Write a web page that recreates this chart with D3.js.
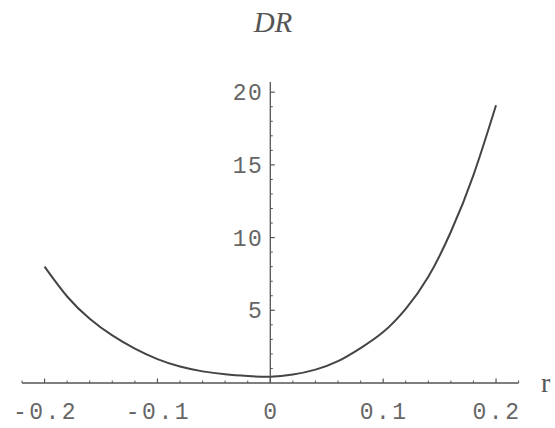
<!DOCTYPE html>
<html><head><meta charset="utf-8">
<script src="https://cdn.jsdelivr.net/npm/d3@7"></script>
<style>body{margin:0;background:#fff}svg{display:block}</style>
</head><body>
<svg id="c" width="555" height="428"></svg>
<script>
// Data
const rValues  = [-0.20,-0.18,-0.16,-0.14,-0.12,-0.10,-0.08,-0.06,-0.04,-0.02,0.00,0.02,0.04,0.06,0.08,0.10,0.12,0.14,0.16,0.18,0.20];
const drValues = [8.0,5.95,4.42,3.27,2.36,1.64,1.13,0.80,0.60,0.48,0.43,0.58,0.92,1.50,2.40,3.50,5.1,7.3,10.4,14.3,19.1];
const xTicks = [-0.2,-0.1,0,0.1,0.2];
const xTickLabels = ["-0.2","-0.1","0","0.1","0.2"];
const yTicks = [5,10,15,20];
const yTickLabels = ["5","10","15","20"];
const title = "DR";
const xLabel = "r";

const svg = d3.select("#c");
const x = d3.scaleLinear().domain([-0.22,0.22]).range([22,518.6]);
const y = d3.scaleLinear().domain([0,20.7]).range([383,82]);
const axisCol = "#555", textCol = "#666";

// x axis line
svg.append("line").attr("x1",x(-0.22)).attr("x2",x(0.22)).attr("y1",y(0)).attr("y2",y(0))
  .attr("stroke",axisCol).attr("stroke-width",1.3);
// y axis line
svg.append("line").attr("x1",x(0)).attr("x2",x(0)).attr("y1",y(0)).attr("y2",y(20.7))
  .attr("stroke",axisCol).attr("stroke-width",1.3);

// x minor ticks
const xMinor = d3.range(-0.22,0.2201,0.02).map(v=>+v.toFixed(2)).filter(v=>!xTicks.some(t=>Math.abs(t-v)<1e-6));
svg.selectAll(".xm").data(xMinor).join("line")
  .attr("x1",d=>x(d)).attr("x2",d=>x(d)).attr("y1",y(0)).attr("y2",y(0)-2.5)
  .attr("stroke",axisCol).attr("stroke-width",1);
svg.selectAll(".xM").data(xTicks).join("line")
  .attr("x1",d=>x(d)).attr("x2",d=>x(d)).attr("y1",y(0)).attr("y2",y(0)-4.5)
  .attr("stroke",axisCol).attr("stroke-width",1.2);
svg.selectAll(".xl").data(xTicks).join("text")
  .attr("x",d=>x(d)+1).attr("y",419).attr("text-anchor","middle")
  .attr("font-family","'Liberation Mono', monospace").attr("font-size",23)
  .attr("letter-spacing",2.5).attr("fill",textCol)
  .text((d,i)=>xTickLabels[i]);

// y minor ticks
const yMinor = d3.range(1,21,1).filter(v=>v%5!==0);
svg.selectAll(".ym").data(yMinor).join("line")
  .attr("x1",x(0)).attr("x2",x(0)+2.5).attr("y1",d=>y(d)).attr("y2",d=>y(d))
  .attr("stroke",axisCol).attr("stroke-width",1);
svg.selectAll(".yM").data(yTicks).join("line")
  .attr("x1",x(0)).attr("x2",x(0)+4.5).attr("y1",d=>y(d)).attr("y2",d=>y(d))
  .attr("stroke",axisCol).attr("stroke-width",1.2);
svg.selectAll(".yl").data(yTicks).join("text")
  .attr("x",x(0)-7).attr("y",d=>y(d)+8).attr("text-anchor","end")
  .attr("font-family","'Liberation Mono', monospace").attr("font-size",23)
  .attr("letter-spacing",1.5).attr("fill",textCol)
  .text((d,i)=>yTickLabels[i]);

// curve
const line = d3.line().x((d,i)=>x(rValues[i])).y(d=>y(d)).curve(d3.curveNatural);
svg.append("path").datum(drValues).attr("d",line).attr("fill","none")
  .attr("stroke","#444").attr("stroke-width",2);

// labels
svg.append("text").attr("x",273).attr("y",32).attr("text-anchor","middle")
  .attr("font-family","'Liberation Serif', serif").attr("font-style","italic")
  .attr("font-size",29).attr("fill","#555").text(title);
svg.append("text").attr("x",541).attr("y",392)
  .attr("font-family","'Liberation Serif', serif").attr("font-size",28)
  .attr("fill","#555").text(xLabel);
</script>
</body></html>
